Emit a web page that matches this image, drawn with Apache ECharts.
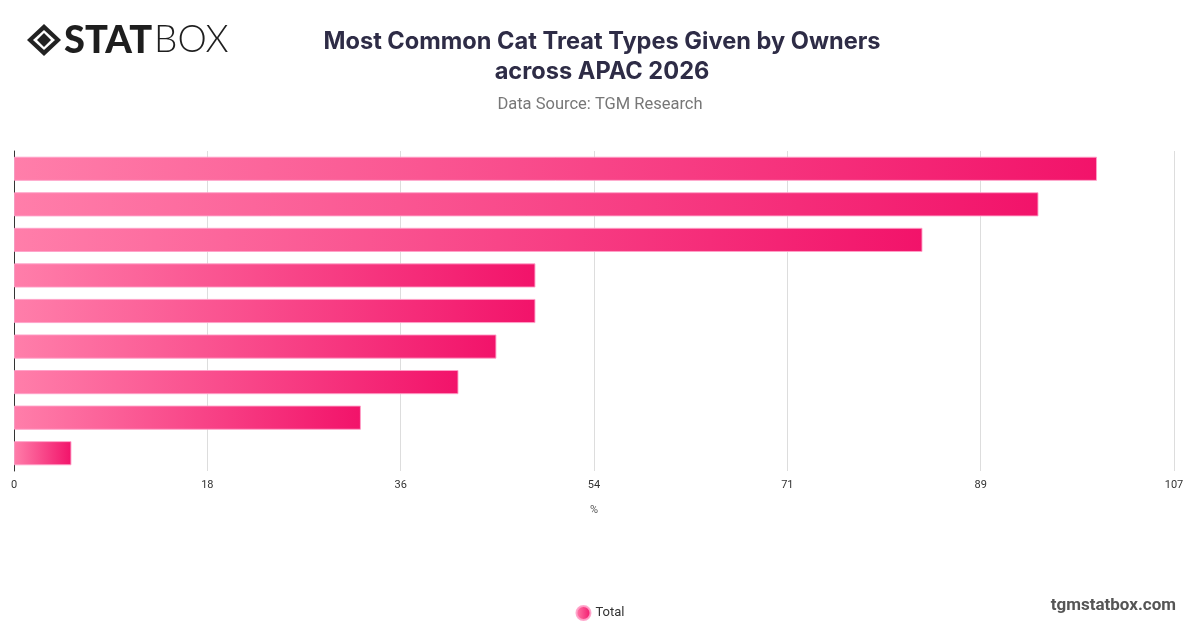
<!DOCTYPE html>
<html>
<head>
<meta charset="utf-8">
<script src="https://cdn.jsdelivr.net/npm/echarts@6/dist/echarts.min.js"></script>
<style>
html,body{margin:0;padding:0;background:#fff;}
#chart{width:1200px;height:628px;}
</style>
</head>
<body>
<div id="chart"></div>
<script>
const categories = ['Type 1','Type 2','Type 3','Type 4','Type 5','Type 6','Type 7','Type 8','Type 9'];
const totalValues = [99.9, 94.5, 83.8, 48.1, 48.1, 44.5, 41.0, 32.0, 5.3];
const axisMax = 107;
const axisSteps = 6;

const chart = echarts.init(document.getElementById('chart'));
const barGradient = new echarts.graphic.LinearGradient(0, 0, 1, 0, [
  {offset: 0, color: '#ff7eaa'},
  {offset: 1, color: '#f2136a'}
]);
chart.setOption({
  backgroundColor: '#fff',
  animation: false,
  title: [{
    text: 'Most Common Cat Treat Types Given by Owners\nacross APAC 2026',
    left: 597, top: 22, textAlign: 'center',
    textStyle: {fontFamily: 'Inter', fontWeight: 'bold', fontSize: 23.6, lineHeight: 30, color: '#2e2c46'}
  }, {
    text: 'Data Source: TGM Research',
    left: 595, top: 91, textAlign: 'center',
    textStyle: {fontFamily: 'Roboto', fontWeight: 'normal', fontSize: 16.5, color: '#777'}
  }],
  graphic: [
    {type: 'polygon', shape: {points: [[44,24],[61,40],[44,56],[27,40]]}, style: {fill: '#222'}},
    {type: 'polygon', shape: {points: [[44,30],[55,40],[44,50],[33,40]]}, style: {fill: '#fff'}},
    {type: 'polygon', shape: {points: [[44,33],[51,40],[44,47],[37,40]]}, style: {fill: '#222'}},
    {type: 'text', left: 64, top: 22, style: {text: 'STAT', fontFamily: 'Lato', fontWeight: 900, fontSize: 38, fill: '#1e1e1e'}},
    {type: 'text', left: 154, top: 22, style: {text: 'BOX', fontFamily: 'Lato', fontWeight: 300, fontSize: 37, fill: '#1e1e1e'}},
    {type: 'text', right: 24, top: 597, style: {text: 'tgmstatbox.com', fontFamily: 'Roboto', fontWeight: 'bold', fontSize: 17, fill: '#555'}}
  ],
  legend: {
    data: ['Total'], left: 'center', top: 600, icon: 'circle', itemWidth: 14, itemHeight: 14,
    textStyle: {fontFamily: 'Roboto', fontSize: 13, color: '#333'}
  },
  grid: {left: 14, right: 26, top: 151, bottom: 157, containLabel: false},
  xAxis: {
    type: 'value', min: 0, max: axisMax, interval: axisMax / axisSteps,
    name: '%', nameLocation: 'middle', nameGap: 34,
    nameTextStyle: {fontFamily: 'Roboto', fontSize: 11, color: '#555'},
    axisLine: {show: false}, axisTick: {show: false},
    axisLabel: {margin: 9, fontFamily: 'Roboto', fontSize: 11, color: '#333',
      formatter: v => String(Math.round(v))},
    splitLine: {show: true, lineStyle: {color: '#ddd', width: 1}}
  },
  yAxis: {
    type: 'category', data: categories, inverse: true,
    axisLine: {show: true, lineStyle: {color: '#333', width: 1}},
    axisTick: {show: false}, axisLabel: {show: false}, splitLine: {show: false}
  },
  series: [{
    name: 'Total', type: 'bar', data: totalValues, barCategoryGap: '32%',
    itemStyle: {color: barGradient, borderColor: 'rgba(255,160,200,0.9)', borderWidth: 1}
  }]
});
</script>
</body>
</html>
